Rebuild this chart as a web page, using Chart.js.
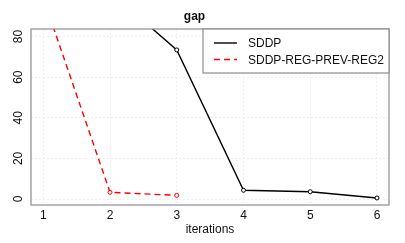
<!DOCTYPE html>
<html>
<head>
<meta charset="utf-8">
<script src="https://cdn.jsdelivr.net/npm/chart.js@4/dist/chart.umd.min.js"></script>
<style>
  html, body { margin: 0; padding: 0; background: #fff; }
  #wrap { width: 405px; height: 243px; }
</style>
</head>
<body>
<div id="wrap"><canvas id="grafico"></canvas></div>
<script>
// dados
var iterations = [1, 2, 3, 4, 5, 6];
var sddp = [140, 102, 73.4, 4.3, 3.6, 0.5];
var sddpRegPrev = [99, 3.3, 1.8, null, null, null];
var xTicks = [1, 2, 3, 4, 5, 6];
var yTicks = [0, 20, 40, 60, 80];
var seriesNames = ['SDDP', 'SDDP-REG-PREV-REG2'];

var fonte = '"Liberation Sans", Arial, sans-serif';

// moldura + legenda dentro da área do gráfico
var molduraPlugin = {
    id: 'moldura',
    afterDraw: function (chart) {
        var ctx = chart.ctx;
        var a = chart.chartArea;
        ctx.save();
        ctx.strokeStyle = '#8c8c8c';
        ctx.lineWidth = 1.2;
        ctx.strokeRect(a.left, a.top, a.right - a.left, a.bottom - a.top);

        // caixa da legenda
        var lx = a.right - 186, ly = a.top, lw = 186, lh = 44;
        ctx.fillStyle = '#fff';
        ctx.fillRect(lx, ly, lw, lh);
        ctx.strokeRect(lx, ly, lw, lh);

        ctx.font = '12px ' + fonte;
        ctx.textBaseline = 'middle';
        ctx.textAlign = 'left';
        chart.data.datasets.forEach(function (ds, i) {
            var y = ly + 14 + i * 16.5;
            ctx.beginPath();
            ctx.strokeStyle = ds.borderColor;
            ctx.lineWidth = 1.4;
            ctx.setLineDash(ds.borderDash || []);
            ctx.moveTo(lx + 11, y);
            ctx.lineTo(lx + 34, y);
            ctx.stroke();
            ctx.setLineDash([]);
            ctx.fillStyle = '#111';
            ctx.fillText(ds.label, lx + 45, y + 1);
        });
        ctx.restore();
    }
};

var ctx = document.getElementById('grafico').getContext('2d');
new Chart(ctx, {
    type: 'line',
    data: {
        datasets: [{
            label: seriesNames[0],
            data: iterations.map(function (x, i) { return { x: x, y: sddp[i] }; }),
            borderColor: '#000',
            borderWidth: 1.4,
            pointRadius: 2,
            pointBorderWidth: 1,
            pointBackgroundColor: '#fff',
            pointBorderColor: '#000',
            fill: false
        }, {
            label: seriesNames[1],
            data: iterations.map(function (x, i) { return { x: x, y: sddpRegPrev[i] }; }),
            borderColor: '#ff0000',
            borderWidth: 1.4,
            borderDash: [6, 4],
            pointRadius: 2,
            pointBorderWidth: 1,
            pointBackgroundColor: '#fff',
            pointBorderColor: '#ff0000',
            fill: false,
            spanGaps: false
        }]
    },
    options: {
        responsive: true,
        maintainAspectRatio: false,
        animation: false,
        layout: { padding: { left: 0, right: 16, top: 0, bottom: 0 } },
        scales: {
            x: {
                type: 'linear',
                min: 0.816,
                max: 6.18,
                afterBuildTicks: function (s) { s.ticks = xTicks.map(function (v) { return { value: v }; }); },
                afterFit: function (s) { s.height = 38; },
                grid: { color: '#efefef', drawTicks: false },
                border: { display: false, dash: [2, 2] },
                ticks: { color: '#111', font: { family: fonte, size: 12 }, padding: 3 },
                title: { display: true, text: 'iterations', color: '#111', font: { family: fonte, size: 12 }, padding: { top: 0, bottom: 6 } }
            },
            y: {
                min: -2.95,
                max: 83.7,
                afterBuildTicks: function (s) { s.ticks = yTicks.map(function (v) { return { value: v }; }); },
                afterFit: function (s) { s.width = 31; },
                grid: { color: '#efefef', drawTicks: false },
                border: { display: false, dash: [2, 2] },
                ticks: { color: '#111', font: { family: fonte, size: 12 }, minRotation: 90, maxRotation: 90, crossAlign: 'center', padding: 6 }
            }
        },
        plugins: {
            legend: { display: false },
            tooltip: { enabled: false },
            title: {
                display: true,
                text: 'gap',
                color: '#111',
                font: { family: fonte, size: 12, weight: 'bold' },
                padding: { top: 9, bottom: 5.6 }
            }
        }
    },
    plugins: [molduraPlugin]
});
</script>
</body>
</html>
